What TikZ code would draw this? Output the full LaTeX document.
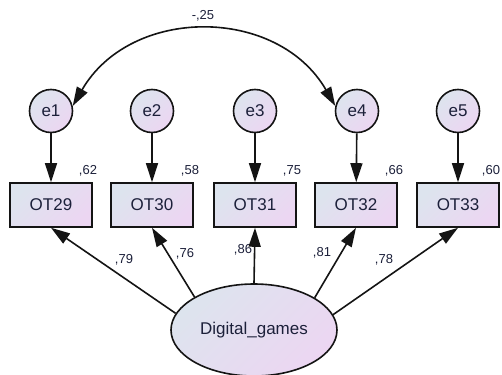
\documentclass[tikz,border=0pt]{standalone}
\usepackage{fontspec}
\setmainfont{Liberation Sans}
\usetikzlibrary{arrows.meta,shapes.geometric}
\definecolor{semblue}{RGB}{221,228,238}
\definecolor{semlav}{RGB}{236,214,242}
\definecolor{semtext}{RGB}{28,32,58}
\definecolor{semline}{RGB}{20,20,20}
\tikzset{
  shade2/.style={top color=semblue, bottom color=semlav, shading angle=45},
  obs/.style={draw=semline, line width=0.8pt, rectangle, minimum width=41pt, minimum height=22pt, inner sep=0pt, shade2},
  err/.style={draw=semline, line width=0.8pt, circle, minimum size=21.5pt, inner sep=0pt, shade2},
  lat/.style={draw=semline, line width=0.8pt, ellipse, minimum width=83pt, minimum height=46pt, inner sep=0pt, shade2},
  coef/.style={font=\fontsize{6.5}{8}\selectfont, inner sep=0pt},
  path/.style={draw=semline, line width=0.8pt, -{Triangle[length=9.5pt,width=6pt]}}
}
\begin{document}
\begin{tikzpicture}[x=0.5pt, y=-0.5pt, font=\fontsize{8.5}{10}\selectfont, text=semtext]
  \useasboundingbox (0,0) rectangle (502,374);
  % error terms
  \node[err] (e1) at (51,111) {e1};
  \node[err] (e2) at (152,111) {e2};
  \node[err] (e3) at (255,111) {e3};
  \node[err] (e4) at (357,111) {e4};
  \node[err] (e5) at (458,111) {e5};
  % observed items
  \node[obs] (ot29) at (51,205) {OT29};
  \node[obs] (ot30) at (152,205) {OT30};
  \node[obs] (ot31) at (255,205) {OT31};
  \node[obs] (ot32) at (356,205) {OT32};
  \node[obs] (ot33) at (458,205) {OT33};
  % latent factor
  \node[lat] (dg) at (254,330) {Digital\_games};
  % squared multiple correlations
  \node[coef] (v29) at (88,171) {,62};
  \node[coef] (v30) at (190,171) {,58};
  \node[coef] (v31) at (292,171) {,75};
  \node[coef] (v32) at (394,171) {,66};
  \node[coef] (v33) at (491,171) {,60};
  % loadings
  \node[coef] (l29) at (124,260) {,79};
  \node[coef] (l30) at (185,254) {,76};
  \node[coef] (l31) at (243,250) {,86};
  \node[coef] (l32) at (322,253) {,81};
  \node[coef] (l33) at (384,260) {,78};
  \node[coef] (c14) at (203,16) {-,25};
  % error paths
  \draw[path] (e1) -- (ot29);
  \draw[path] (e2) -- (ot30);
  \draw[path] (e3) -- (ot31);
  \draw[path] (e4) -- (ot32);
  \draw[path] (e5) -- (ot33);
  % factor paths
  \draw[path] (dg.168.5) -- (ot29.south);
  \draw[path] (dg.151.5) -- (ot30.south);
  \draw[path] (dg.north) -- (ot31.south);
  \draw[path] (dg.28.5) -- (ot32.south);
  \draw[path] (dg.11.5) -- (ot33.south);
  % covariance
  \draw[path, {Triangle[length=9.5pt,width=6pt]}-{Triangle[length=9.5pt,width=6pt]}] (e4.167) to[out=120, in=60, looseness=1.13] (e1.13);
\end{tikzpicture}
\end{document}
